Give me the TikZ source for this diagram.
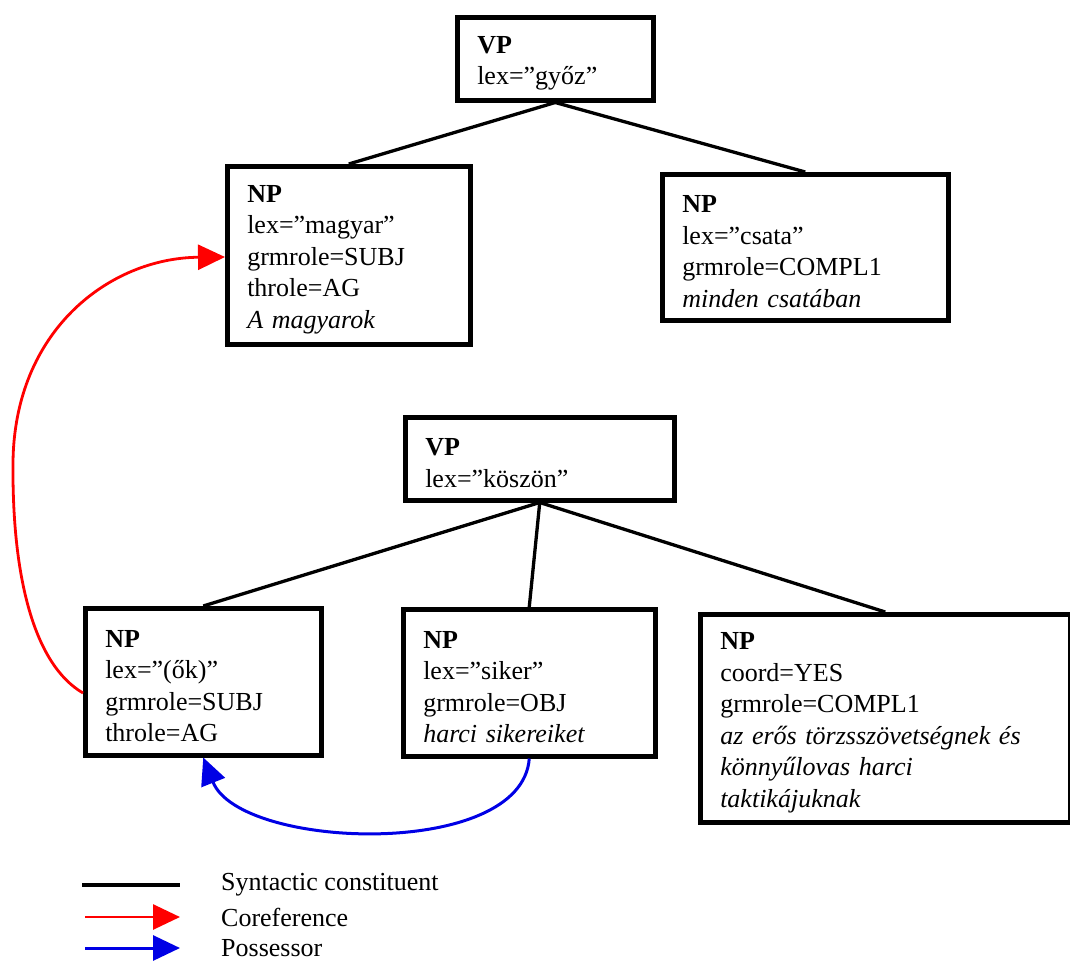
\documentclass[tikz,border=0pt]{standalone}
\usepackage{fontspec}
\setmainfont{Liberation Serif}
\usetikzlibrary{arrows.meta}
\newcommand{\firstline}{\rule{0pt}{26pt}}
\begin{document}
\begin{tikzpicture}[x=1pt,y=-1pt,
  box/.style={draw, line width=4.5pt, fill=white, anchor=north west, align=left,
    inner xsep=20pt, inner ysep=0pt, font=\fontsize{26}{31.5}\selectfont},
  tree/.style={line width=3.3pt, black},
  coref/.style={line width=2.8pt, red, -{Triangle[length=27pt,width=25pt]}},
  poss/.style={line width=3pt, blue!90!black, -{Triangle[length=27pt,width=25pt]}},
  legtext/.style={anchor=west, font=\fontsize{26}{31.5}\selectfont, inner sep=0pt}]
\useasboundingbox (0,0) rectangle (1070,961);

% boxes
\node[box, text width=156pt, minimum height=83pt] (vp1) at (455,15)
  {\firstline\textbf{VP}\\lex=”győz”};
\node[box, text width=203pt, minimum height=178pt] (magyar) at (225,164)
  {\firstline\textbf{NP}\\lex=”magyar”\\grmrole=SUBJ\\throle=AG\\\textit{A magyarok}};
\node[box, text width=246pt, minimum height=146pt] (csata) at (660,172)
  {\firstline\textbf{NP}\\lex=”csata”\\grmrole=COMPL1\\\textit{minden csatában}};
\node[box, text width=229pt, minimum height=83pt] (vp2) at (403,415)
  {\firstline\textbf{VP}\\lex=”köszön”};
\node[box, text width=196pt, minimum height=147pt] (ok) at (83,606)
  {\firstline\textbf{NP}\\lex=”(ők)”\\grmrole=SUBJ\\throle=AG};
\node[box, text width=212pt, minimum height=147pt] (siker) at (401,607)
  {\firstline\textbf{NP}\\lex=”siker”\\grmrole=OBJ\\\textit{harci sikereiket}};
\node[box, text width=330pt, minimum height=208pt] (coord) at (698,612)
  {\firstline\textbf{NP}\\coord=YES\\grmrole=COMPL1\\\textit{az erős törzsszövetségnek és}\\\textit{könnyűlovas harci}\\\textit{taktikájuknak}};

% tree edges
\draw[tree] (vp1.south) -- (magyar.north);
\draw[tree] (vp1.south) -- (csata.north);
\draw[tree] (vp2.south) -- (ok.north);
\draw[tree] (vp2.south) -- (siker.north);
\draw[tree] (vp2.south) -- (coord.north);

% coreference
\draw[coref] ([yshift=-87pt]ok.north west) .. controls (35,665) and (12,580) .. (13,463)
  .. controls (14,330) and (110,258) .. ([yshift=-93pt]magyar.north west);

% possessor
\draw[poss] (siker.south) .. controls (522,860) and (240,850) .. (ok.south);

% legend
\coordinate (l1a) at (82,885);  \coordinate (l1b) at (180,885);
\coordinate (l2a) at (85,917);  \coordinate (l2b) at (180,917);
\coordinate (l3a) at (85,948);  \coordinate (l3b) at (180,948);
\draw[tree, line width=3.8pt] (l1a) -- (l1b);
\draw[coref] (l2a) -- (l2b);
\draw[poss] (l3a) -- (l3b);
\node[legtext] (t1) at (221,885) {Syntactic constituent};
\node[legtext] (t2) at (221,917) {Coreference};
\node[legtext] (t3) at (221,948) {Possessor};
\end{tikzpicture}
\end{document}
